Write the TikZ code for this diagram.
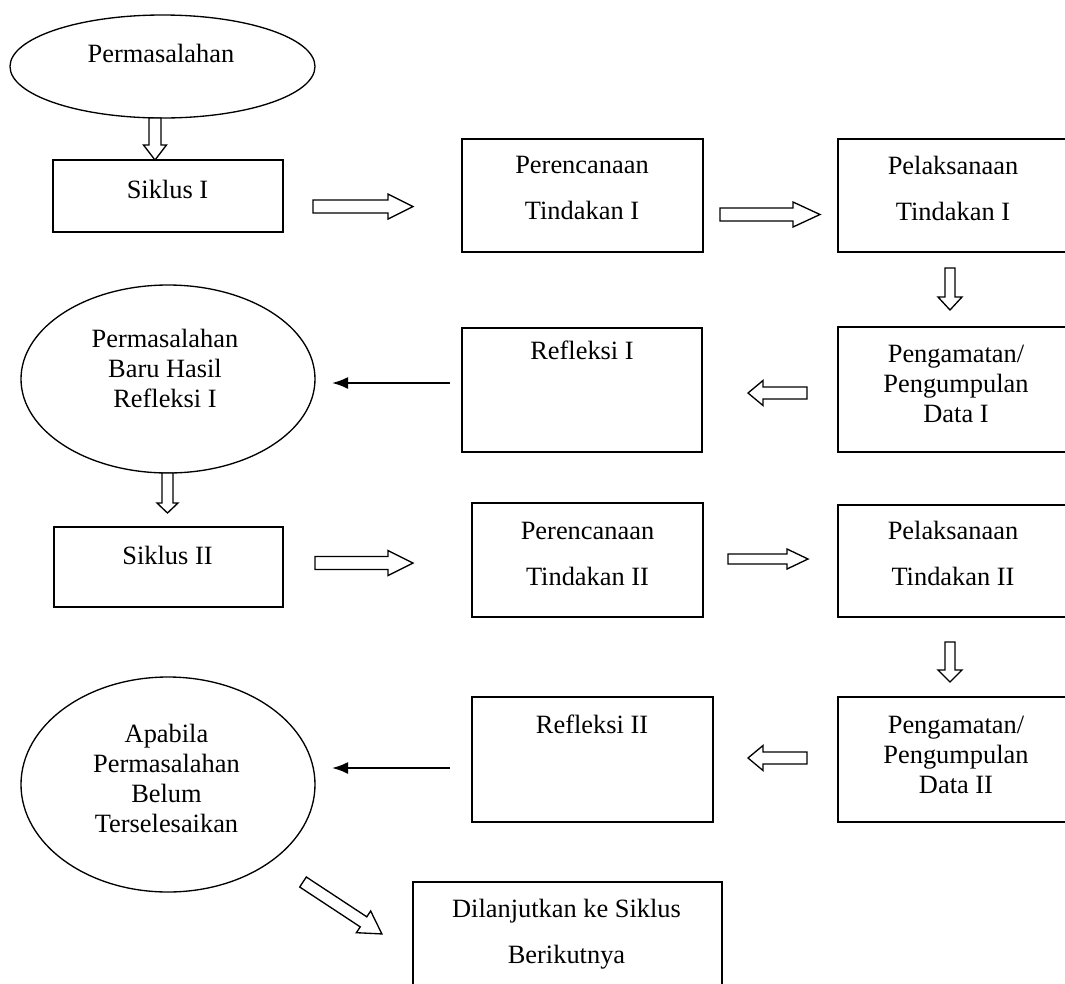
\documentclass[tikz,border=0pt]{standalone}
\usepackage{fontspec}
\setmainfont{Liberation Serif}
\usetikzlibrary{shapes.geometric,fit,calc,arrows.meta}
\newcommand\blockarrow[5]{%
  \path let \p1=($(#2)-(#1)$), \n1={atan2(\y1,\x1)}, \n2={veclen(\x1,\y1)} in
    \pgfextra{\xdef\baAngle{\n1}\xdef\baLen{\n2}};
  \draw[hollow, shift={(#1)}, rotate=\baAngle]
    (0pt,{#3*0.75pt}) -- ({\baLen-#5*0.75pt},{#3*0.75pt}) -- ({\baLen-#5*0.75pt},{#4*0.75pt})
    -- (\baLen,0pt) -- ({\baLen-#5*0.75pt},{-#4*0.75pt}) -- ({\baLen-#5*0.75pt},{-#3*0.75pt})
    -- (0pt,{-#3*0.75pt}) -- cycle;
}
\begin{document}
\begin{tikzpicture}[x=0.75pt,y=-0.75pt,
  box/.style={draw, line width=1.2pt, inner sep=0pt},
  oval/.style={draw, ellipse, line width=1pt, inner sep=0pt},
  txt/.style={align=center, inner sep=0pt, font=\fontsize{19.8pt}{22.5pt}\selectfont},
  txtwide/.style={align=center, inner sep=0pt, font=\fontsize{19.8pt}{34.5pt}\selectfont},
  hollow/.style={draw, line width=1pt, fill=white, line join=miter},
  solidarrow/.style={line width=1.5pt, -{Latex[length=12pt,width=9pt]}}]
\useasboundingbox (0,0) rectangle (1065,983);
\clip (0,0) rectangle (1065,983);

% ellipses
\node[oval, minimum width=228.75pt, minimum height=77.25pt] (e1) at (162.5,66.5) {};
\node[oval, minimum width=220.5pt, minimum height=141pt] (e2) at (168,379) {};
\node[oval, minimum width=220.5pt, minimum height=161.25pt] (e3) at (168,784.5) {};

% boxes
\node[box, fit={(53,160) (283,232)}] (s1) {};
\node[box, fit={(462,139) (703,252)}] (p1) {};
\node[box, fit={(838,139) (1080,252)}] (l1) {};
\node[box, fit={(838,327) (1080,452)}] (g1) {};
\node[box, fit={(462,328) (702,452)}] (r1) {};
\node[box, fit={(54,527) (283,607)}] (s2) {};
\node[box, fit={(472,503) (703,617)}] (p2) {};
\node[box, fit={(838,505) (1080,617)}] (l2) {};
\node[box, fit={(838,697) (1080,822)}] (g2) {};
\node[box, fit={(472,697) (713,822)}] (r2) {};
\node[box, fit={(413,882) (722,1000)}] (d) {};

% texts
\node[txt] (te1) at (161,53) {Permasalahan};
\node[txt] (ts1) at (167.5,189.5) {Siklus I};
\node[txtwide] (tp1) at (582,188) {Perencanaan\\Tindakan I};
\node[txtwide] (tl1) at (953,188) {Pelaksanaan\\Tindakan I};
\node[txt] (tg1) at (956,384) {Pengamatan/\\Pengumpulan\\Data I};
\node[txt] (tr1) at (582,350) {Refleksi I};
\node[txt] (te2) at (165,368.5) {Permasalahan\\Baru Hasil\\Refleksi I};
\node[txt] (ts2) at (167.5,555.5) {Siklus II};
\node[txtwide] (tp2) at (587.5,553.5) {Perencanaan\\Tindakan II};
\node[txtwide] (tl2) at (953,553.5) {Pelaksanaan\\Tindakan II};
\node[txt] (tg2) at (956,755) {Pengamatan/\\Pengumpulan\\Data II};
\node[txt] (tr2) at (592,724) {Refleksi II};
\node[txt] (te3) at (166.5,778.5) {Apabila\\Permasalahan\\Belum\\Terselesaikan};
\node[txtwide] (td) at (566.5,934) {Dilanjutkan ke Siklus\\Berikutnya};

% arrow end points
\coordinate (a1s) at (155,118);   \coordinate (a1e) at (155,160);
\coordinate (a2s) at (313,206.5); \coordinate (a2e) at (413,206.5);
\coordinate (a3s) at (720,214.5); \coordinate (a3e) at (820,214.5);
\coordinate (a4s) at (950,268);   \coordinate (a4e) at (950,310);
\coordinate (a5s) at (807,393);   \coordinate (a5e) at (748,393);
\coordinate (a6s) at (167.5,473); \coordinate (a6e) at (167.5,513);
\coordinate (a7s) at (315,563);   \coordinate (a7e) at (413,563);
\coordinate (a8s) at (728,559);   \coordinate (a8e) at (808,559);
\coordinate (a9s) at (950,642);   \coordinate (a9e) at (950,682);
\coordinate (a10s) at (807,758);  \coordinate (a10e) at (748,758);
\coordinate (a11s) at (303,882);  \coordinate (a11e) at (382,934);
\coordinate (b1s) at (450,383);   \coordinate (b1e) at (332,383);
\coordinate (b2s) at (450,768);   \coordinate (b2e) at (332,768);

% hollow arrows
\blockarrow{a1s}{a1e}{6}{11.5}{15}
\blockarrow{a2s}{a2e}{6.5}{12.5}{25}
\blockarrow{a3s}{a3e}{6.5}{12.5}{27}
\blockarrow{a4s}{a4e}{5}{12}{13}
\blockarrow{a5s}{a5e}{6}{12.5}{15}
\blockarrow{a6s}{a6e}{5.5}{10.5}{10}
\blockarrow{a7s}{a7e}{6.5}{12.5}{25}
\blockarrow{a8s}{a8e}{5}{10}{21}
\blockarrow{a9s}{a9e}{5}{12}{12}
\blockarrow{a10s}{a10e}{6}{12.5}{15}
\blockarrow{a11s}{a11e}{6}{13}{22}

% solid arrows
\draw[solidarrow] (b1s) -- (b1e);
\draw[solidarrow] (b2s) -- (b2e);
\end{tikzpicture}
\end{document}
